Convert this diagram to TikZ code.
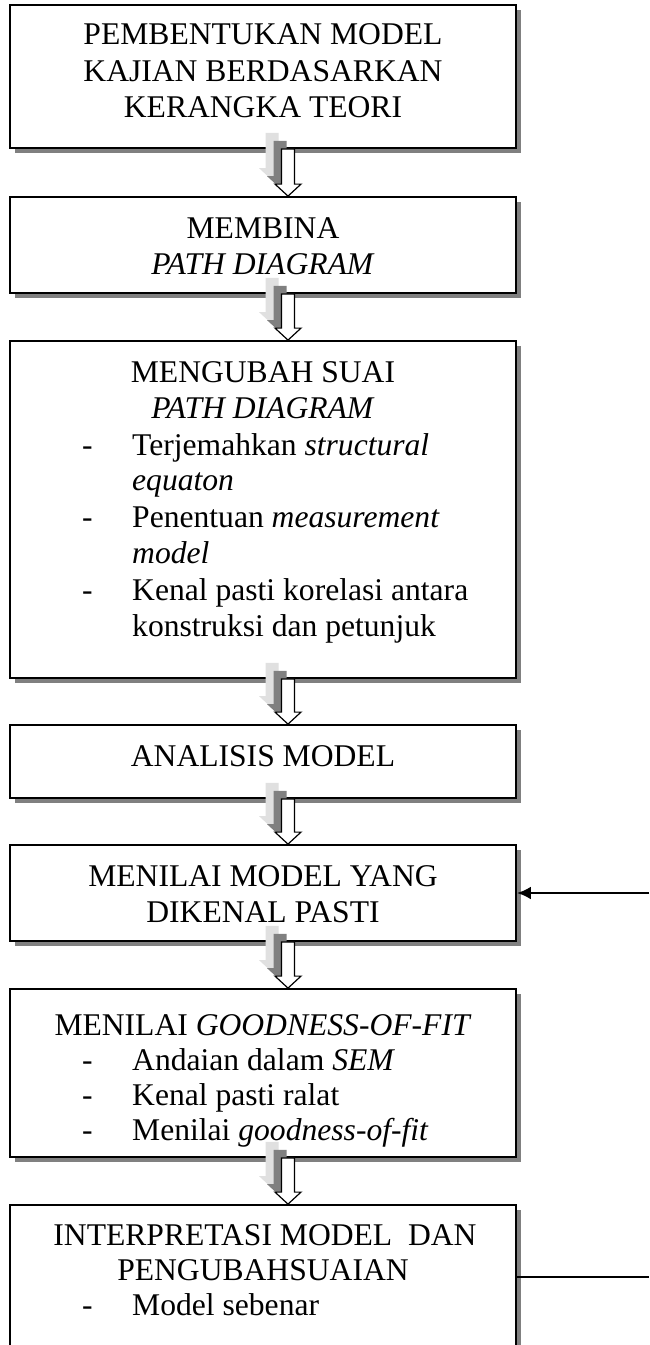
\documentclass[tikz,border=0pt]{standalone}
\usepackage{fontspec}
\setmainfont{Liberation Serif}
\usepackage{tikz}
\usetikzlibrary{shadows,calc,arrows.meta}
\definecolor{shadegray}{HTML}{808080}
\definecolor{shadelight}{HTML}{E0E0E0}

\tikzset{
  flowbox/.style={draw,line width=1.8pt,fill=white,inner sep=0pt,minimum width=506pt,
    drop shadow={shadow xshift=5pt,shadow yshift=-5pt,fill=shadegray,opacity=1}},
  line/.style={inner sep=0pt,anchor=base},
  item/.style={inner sep=0pt,anchor=base west},
  feedback/.style={line width=2.7pt}
}

\newcommand{\ArrowPath}[3]{let \p1=([xshift=25pt]#1.south), \p2=([xshift=25pt]#2.north) in
  (\x1-6.5pt-#3pt,\y1+#3pt) -- (\x1-6.5pt-#3pt,\y2+12pt+#3pt) -- (\x1-13pt-#3pt,\y2+12pt+#3pt)
  -- (\x2-#3pt,\y2+#3pt) -- (\x1+13pt-#3pt,\y2+12pt+#3pt) -- (\x1+6.5pt-#3pt,\y2+12pt+#3pt)
  -- (\x1+6.5pt-#3pt,\y1+#3pt) -- cycle}
\newcommand{\FlowArrow}[2]{%
  \foreach \sh/\cl in {16/shadelight,8/shadegray}{%
    \fill[\cl] \ArrowPath{#1}{#2}{\sh};}
  \filldraw[fill=white,draw=black,line width=1.2pt] \ArrowPath{#1}{#2}{0};}

\begin{document}
\begin{tikzpicture}[x=1pt,y=-1pt,font=\fontsize{31.6}{36.5}\selectfont]

\useasboundingbox (0,0) rectangle (649,1345);

\node[flowbox,minimum height=143pt] (b1) at (263,76.5) {};
\node[flowbox,minimum height=96pt] (b2) at (263,245) {};
\node[flowbox,minimum height=337pt] (b3) at (263,509.5) {};
\node[flowbox,minimum height=73pt] (b4) at (263,761.5) {};
\node[flowbox,minimum height=96pt] (b5) at (263,893) {};
\node[flowbox,minimum height=168pt] (b6) at (263,1073) {};
\node[flowbox,minimum height=220pt] (b7) at (263,1315) {};

\node[line] (t1a) at (263,44) {PEMBENTUKAN MODEL};
\node[line] (t1b) at (263,81) {KAJIAN BERDASARKAN};
\node[line] (t1c) at (263,117) {KERANGKA TEORI};

\node[line] (t2a) at (263,238) {MEMBINA};
\node[line] (t2b) at (263,274) {\textit{PATH DIAGRAM}};

\node[line] (t3a) at (263,382) {MENGUBAH SUAI};
\node[line] (t3b) at (263,418) {\textit{PATH DIAGRAM}};
\node[item] (d3a) at (82,455) {-};
\node[item] (t3c) at (132,455) {Terjemahkan \textit{structural}};
\node[item] (t3d) at (132,490) {\textit{equaton}};
\node[item] (d3b) at (82,527) {-};
\node[item] (t3e) at (132,527) {Penentuan \textit{measurement}};
\node[item] (t3f) at (132,563) {\textit{model}};
\node[item] (d3c) at (82,600) {-};
\node[item] (t3g) at (132,600) {Kenal pasti korelasi antara};
\node[item] (t3h) at (132,636) {konstruksi dan petunjuk};

\node[line] (t4a) at (263,766) {ANALISIS MODEL};

\node[line] (t5a) at (263,886) {MENILAI MODEL YANG};
\node[line] (t5b) at (263,922) {DIKENAL PASTI};

\node[line] (t6a) at (263,1035) {MENILAI \textit{GOODNESS-OF-FIT}};
\node[item] (d6a) at (82,1070) {-};
\node[item] (t6b) at (132,1070) {Andaian dalam \textit{SEM}};
\node[item] (d6b) at (82,1105) {-};
\node[item] (t6c) at (132,1105) {Kenal pasti ralat};
\node[item] (d6c) at (82,1140) {-};
\node[item] (t6d) at (132,1140) {Menilai \textit{goodness-of-fit}};

\node[line] (t7a) at (265,1245) {INTERPRETASI MODEL\ \ DAN};
\node[line] (t7b) at (263,1280) {PENGUBAHSUAIAN};
\node[item] (d7a) at (82,1315) {-};
\node[item] (t7c) at (132,1315) {Model sebenar};

\FlowArrow{b1}{b2}
\FlowArrow{b2}{b3}
\FlowArrow{b3}{b4}
\FlowArrow{b4}{b5}
\FlowArrow{b5}{b6}
\FlowArrow{b6}{b7}

\coordinate (fb1) at (649,893);
\coordinate (fb2) at (649,1277);
\draw[feedback,-{Latex[length=14pt,width=13pt]}] (fb1) -- (b5.east);
\draw[feedback] (b7.east |- fb2) -- (fb2);

\end{tikzpicture}
\end{document}
